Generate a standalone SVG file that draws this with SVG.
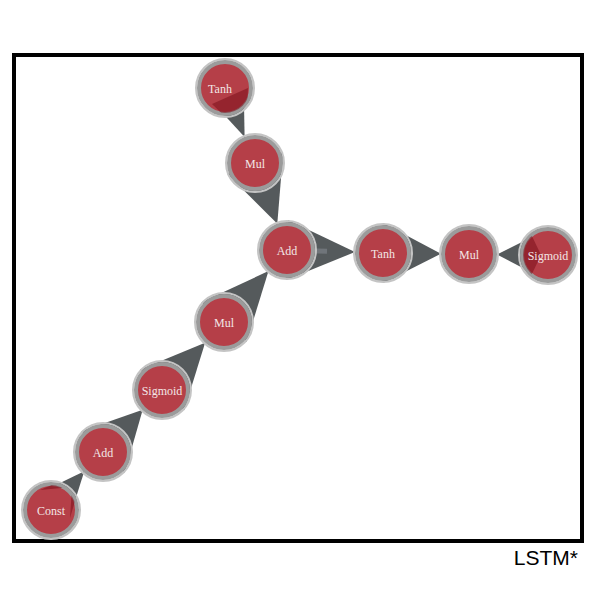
<svg xmlns="http://www.w3.org/2000/svg" width="600" height="600" viewBox="0 0 600 600">
<style>
.frame{fill:#fff;stroke:#000;stroke-width:4}
.arrow{fill:#555a5c;stroke:none}
.shade{fill:#7a0f1a;fill-opacity:0.55;stroke:none}
.shaft{stroke:#70757a;stroke-width:5;fill:none}
.ring{fill:none;stroke:#c4c4c4;stroke-width:2}
.node{fill:#b53f48;stroke:#9b9b9b;stroke-width:4}
.lbl{font-family:"Liberation Serif",serif;font-size:12px;fill:#f3e6e6;text-anchor:middle;dominant-baseline:central}
.title{font-family:"Liberation Sans",Arial,sans-serif;font-size:21px;fill:#000;text-anchor:end}
</style>
<defs>
<clipPath id="c_tanh1"><circle cx="225" cy="88" r="25"/></clipPath>
<clipPath id="c_sig1"><circle cx="548" cy="255" r="25"/></clipPath>
<clipPath id="c_const"><circle cx="51" cy="510" r="25"/></clipPath>
</defs>
<rect class="frame" x="14" y="55" width="568" height="486"/>
<g id="edges">
<polygon class="arrow" points="243.6,80.6 206.4,95.4 244.6,137"/>
<polygon class="arrow" points="283.1,152.6 226.9,173.4 277.3,223.7"/>
<polygon class="arrow" points="287.9,220 286.1,280 355,252"/>
<line class="shaft" x1="310" y1="250.7" x2="327" y2="251.2"/>
<polygon class="arrow" points="383,223 383,283 441,253.7"/>
<polygon class="arrow" points="540,233 540,277 497,254.4"/>
<polygon class="arrow" points="246.6,341.8 201.4,302.2 268.5,271.1"/>
<polygon class="arrow" points="184.2,410.2 139.8,369.8 205.1,342.7"/>
<polygon class="arrow" points="124.7,472.7 81.3,431.3 142.7,409.7"/>
<polygon class="arrow" points="67.4,524.7 34.6,495.3 84.3,471.2"/>
</g>
<g id="n_tanh1"><circle class="ring" cx="225" cy="88" r="29"/><circle class="node" cx="225" cy="88" r="26"/><polygon class="shade" clip-path="url(#c_tanh1)" points="248,88 212,104 246,137"/><text class="lbl" x="220" y="89">Tanh</text></g>
<g id="n_mul1"><circle class="ring" cx="255" cy="163" r="29"/><circle class="node" cx="255" cy="163" r="26"/><text class="lbl" x="255" y="164">Mul</text></g>
<g id="n_add1"><circle class="ring" cx="287" cy="250" r="29"/><circle class="node" cx="287" cy="250" r="26"/><text class="lbl" x="287" y="251">Add</text></g>
<g id="n_tanh2"><circle class="ring" cx="383" cy="253" r="29"/><circle class="node" cx="383" cy="253" r="26"/><text class="lbl" x="383" y="254">Tanh</text></g>
<g id="n_mul2"><circle class="ring" cx="469" cy="254" r="29"/><circle class="node" cx="469" cy="254" r="26"/><text class="lbl" x="469" y="255">Mul</text></g>
<g id="n_sig1"><circle class="ring" cx="548" cy="255" r="29"/><circle class="node" cx="548" cy="255" r="26"/><polygon class="shade" clip-path="url(#c_sig1)" points="530,232 541,255 530,278 497,255"/><text class="lbl" x="548" y="256">Sigmoid</text></g>
<g id="n_mul3"><circle class="ring" cx="224" cy="322" r="29"/><circle class="node" cx="224" cy="322" r="26"/><text class="lbl" x="224" y="323">Mul</text></g>
<g id="n_sig2"><circle class="ring" cx="162" cy="390" r="29"/><circle class="node" cx="162" cy="390" r="26"/><text class="lbl" x="162" y="391">Sigmoid</text></g>
<g id="n_add2"><circle class="ring" cx="103" cy="452" r="29"/><circle class="node" cx="103" cy="452" r="26"/><text class="lbl" x="103" y="453">Add</text></g>
<g id="n_const"><circle class="ring" cx="51" cy="510" r="29"/><circle class="node" cx="51" cy="510" r="26"/><polygon class="shade" clip-path="url(#c_const)" points="40,490 72,487 70,518 84,471"/><text class="lbl" x="51" y="511">Const</text></g>
<text class="title" x="578" y="565">LSTM*</text>
</svg>
